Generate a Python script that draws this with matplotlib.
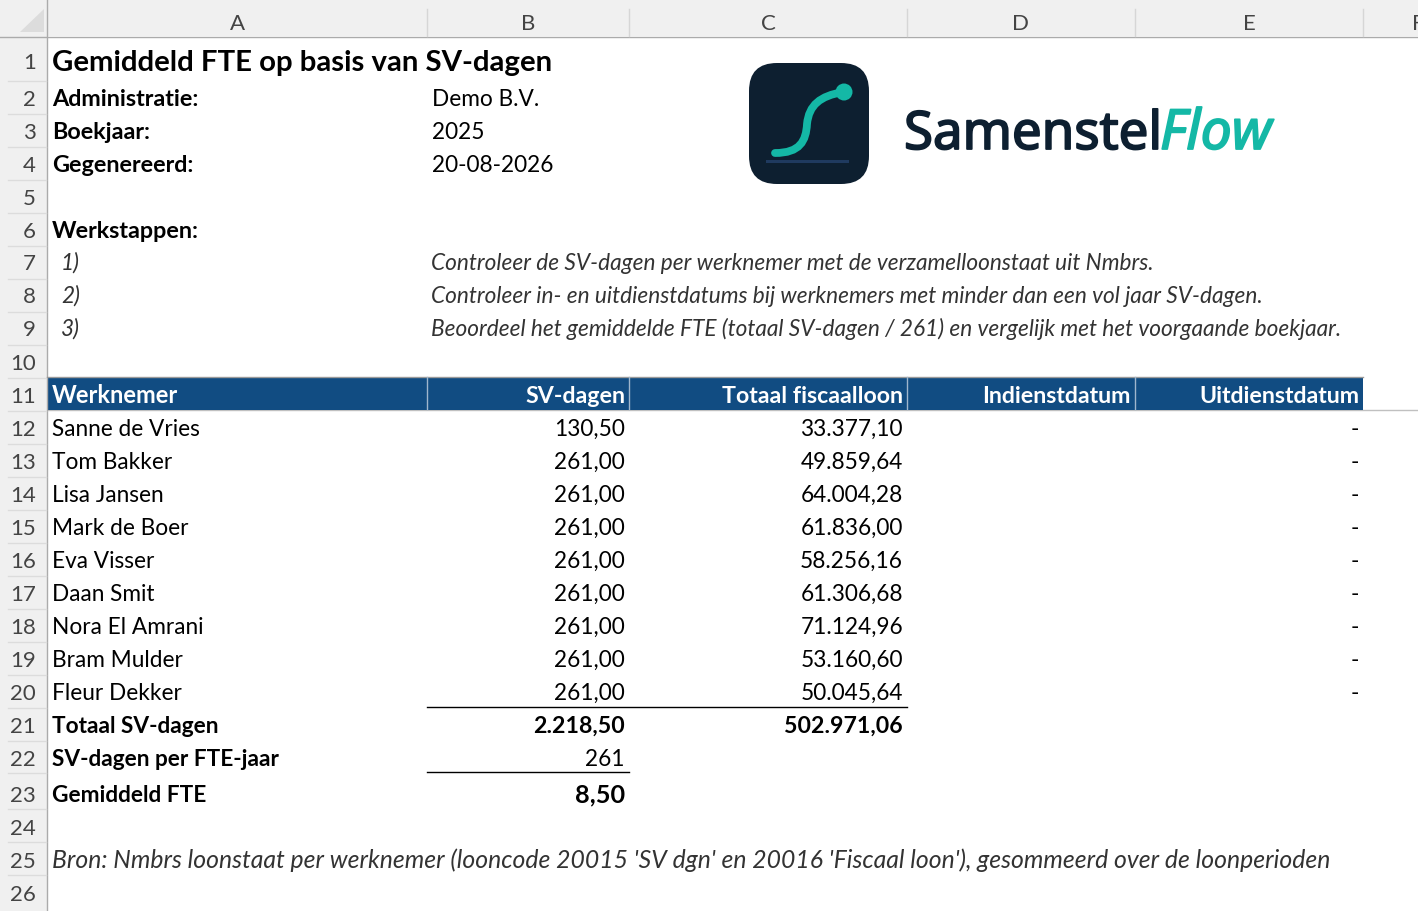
import matplotlib
matplotlib.use("Agg")
import matplotlib.pyplot as plt
import matplotlib.patheffects as pe
from matplotlib.patches import Rectangle, FancyBboxPatch, PathPatch, Circle, Polygon
from matplotlib.path import Path

W, H = 1418, 912
FONT = "Lato"
plt.rcParams["font.family"] = [FONT, "DejaVu Sans"]

title = "Gemiddeld FTE op basis van SV-dagen"
meta_labels = ["Administratie:", "Boekjaar:", "Gegenereerd:"]
meta_values = ["Demo B.V.", "2025", "20-08-2026"]
steps_label = "Werkstappen:"
step_nums = ["1)", "2)", "3)"]
steps = [
    "Controleer de SV-dagen per werknemer met de verzamelloonstaat uit Nmbrs.",
    "Controleer in- en uitdienstdatums bij werknemers met minder dan een vol jaar SV-dagen.",
    "Beoordeel het gemiddelde FTE (totaal SV-dagen / 261) en vergelijk met het voorgaande boekjaar.",
]
headers = ["Werknemer", "SV-dagen", "Totaal fiscaalloon", "Indienstdatum", "Uitdienstdatum"]
employees = ["Sanne de Vries", "Tom Bakker", "Lisa Jansen", "Mark de Boer", "Eva Visser",
             "Daan Smit", "Nora El Amrani", "Bram Mulder", "Fleur Dekker"]
sv_days = [130.50, 261, 261, 261, 261, 261, 261, 261, 261]
wages = [33377.10, 49859.64, 64004.28, 61836.00, 58256.16, 61306.68, 71124.96, 53160.60, 50045.64]
total_sv = 2218.50
total_wage = 502971.06
fte_days = 261
avg_fte = 8.50
source = "Bron: Nmbrs loonstaat per werknemer (looncode 20015 'SV dgn' en 20016 'Fiscaal loon'), gesommeerd over de loonperioden"
col_letters = ["A", "B", "C", "D", "E", "F"]

col_edges = [47, 427, 629, 907, 1135, 1363, 1418]
row_centers = [61, 98, 131, 164, 197, 230, 262, 295, 328, 362, 395, 428, 461, 494, 527, 560,
               593, 626, 659, 692, 725, 758, 794, 827, 860, 893]
row_edges = [38, 81, 114, 147, 180, 213, 246, 279, 312, 345, 378, 411, 444, 477, 510, 543,
             576, 609, 642, 675, 708, 741, 774, 810, 843, 876, 912]

def nl(v, d=2):
    s = f"{v:,.{d}f}"
    return s.replace(",", "#").replace(".", ",").replace("#", ".")

fig = plt.figure(figsize=(W / 100, H / 100), dpi=100, facecolor="white")
ax = fig.add_axes([0, 0, 1, 1])
ax.set_xlim(0, W)
ax.set_ylim(H, 0)
ax.axis("off")

BODY = 16.3
BOLD = 16.8
TOTAL = 16.3
HEAD = 16.7
ITAL = 16.28
HDR_GREY = "#f0f0f0"
NAVY = "#114c82"
INK = "#333333"

def T(x, y, s, size=BODY, weight="normal", style="normal", color="black", ha="left", family=None, off=8):
    return ax.text(x, y + off, s, fontsize=size, fontweight=weight, fontstyle=style, color=color,
                   ha=ha, va="baseline", family=family or [FONT, "DejaVu Sans"])

# sheet chrome
ax.add_patch(Rectangle((0, 0), W, 37, fc=HDR_GREY, ec="none"))
ax.add_patch(Rectangle((0, 0), 47, H, fc=HDR_GREY, ec="none"))
ax.plot([0, W], [37.5, 37.5], color="#ababab", lw=1)
ax.plot([46.5, 46.5], [0, H], color="#ababab", lw=1)
ax.add_patch(Polygon([[44, 10], [44, 33], [20, 33]], fc="#dcdcdc", ec="none"))
for x in col_edges[1:-1]:
    ax.plot([x - .5, x - .5], [10, 37], color="#d6d6d6", lw=1)
for e in row_edges[1:-1]:
    ax.plot([8, 46], [e + .5, e + .5], color="#dcdcdc", lw=1)
for i, c in enumerate(col_letters):
    if c == "F":
        T(1412, 22, c, size=16, color="#444444")
    else:
        T((col_edges[i] + col_edges[i + 1]) / 2, 22, c, size=16, color="#444444", ha="center")
for i, yc in enumerate(row_centers):
    T(36, yc, str(i + 1), size=16, color="#444444", ha="right")

# top block
T(52, row_centers[0], title, size=21.2, weight="bold", off=10)
for i in range(3):
    T(52, row_centers[i + 1], meta_labels[i], size=BOLD, weight="bold")
    T(432, row_centers[i + 1], meta_values[i])
T(52, row_centers[5], steps_label, size=BOLD, weight="bold")
for i in range(3):
    T(61, row_centers[6 + i], step_nums[i], size=ITAL, style="italic", color=INK)
    T(431, row_centers[6 + i], steps[i], size=ITAL, style="italic", color=INK)

# header band
ax.add_patch(Rectangle((47, 378), 1316, 33, fc=NAVY, ec="none"))
ax.plot([0, W], [410.5, 410.5], color="#c0c0c0", lw=1, zorder=0.5)
ax.plot([47, 1363], [377.5, 377.5], color="#9a9a9a", lw=1)
for x in col_edges[1:5]:
    ax.plot([x - .5, x - .5], [378, 410], color="#9fb6cd", lw=1)
T(52, row_centers[10], headers[0], size=17, weight="bold", color="white")
for j in range(1, 5):
    T(col_edges[j + 1] - 4, row_centers[10], headers[j], size=HEAD, weight="bold", color="white", ha="right")

# body
for i, name in enumerate(employees):
    y = row_centers[11 + i]
    T(52, y, name)
    T(625, y, nl(sv_days[i]), ha="right")
    T(903, y, nl(wages[i]), ha="right")
    T(1359, y, "-", ha="right")

# totals
ax.plot([427, 907], [707.5, 707.5], color="black", lw=1)
ax.plot([427, 629], [773.5, 773.5], color="black", lw=1)
T(52, row_centers[20], "Totaal SV-dagen", size=TOTAL, weight="bold")
T(625, row_centers[20], nl(total_sv), size=16.7, weight="bold", ha="right")
T(903, row_centers[20], nl(total_wage), size=16.7, weight="bold", ha="right")
T(52, row_centers[21], "SV-dagen per FTE-jaar", size=TOTAL, weight="bold")
T(625, row_centers[21], str(fte_days), ha="right")
T(52, row_centers[22], "Gemiddeld FTE", size=TOTAL, weight="bold")
T(625, row_centers[22], nl(avg_fte), size=18.2, weight="bold", ha="right", off=8)
T(52, row_centers[24], source, size=17.8, style="italic", color=INK)

# logo
ax.add_patch(FancyBboxPatch((749 + 30, 64 + 30), 120 - 60, 121 - 60,
                            boxstyle="round,pad=30,rounding_size=28", fc="#0d1f30", ec="none"))
ax.add_patch(Rectangle((766, 161), 83, 3, fc="#1f3a5f", ec="none"))
curve = Path([(775, 154), (800, 154), (806, 142), (807, 125), (809, 106), (820, 97), (843, 93)],
             [Path.MOVETO, Path.CURVE4, Path.CURVE4, Path.CURVE4, Path.CURVE4, Path.CURVE4, Path.CURVE4])
ax.add_patch(PathPatch(curve, fc="none", ec="#14b8a6", lw=5.6, capstyle="round"))
ax.add_patch(Circle((844, 93), 8.5, fc="#14b8a6", ec="none"))
t1 = T(904, 130, "Samenstel", size=38, color="#0d1f30", family=["Noto Sans"], off=20)
t2 = T(1160, 130, "Flow", size=39.8, style="italic", color="#14b8a6", family=["Noto Sans"], off=20)
t1.set_path_effects([pe.withStroke(linewidth=1.3, foreground="#0d1f30")])
t2.set_path_effects([pe.withStroke(linewidth=1.3, foreground="#14b8a6")])

fig.savefig("out.png", dpi=100, facecolor="white")
